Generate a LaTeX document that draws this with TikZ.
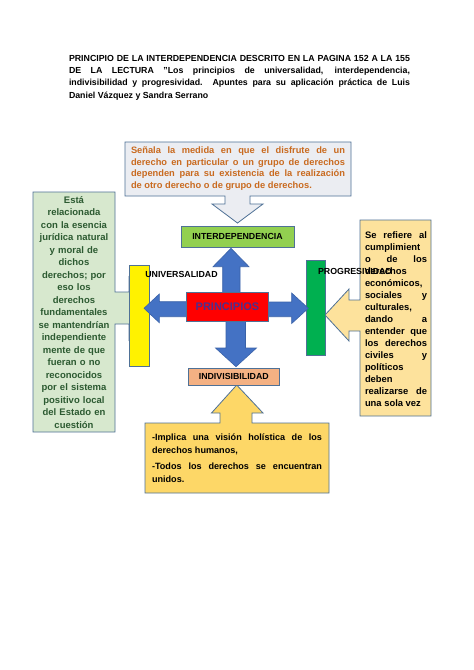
\documentclass[tikz,border=0pt]{standalone}
\usepackage{fontspec}
\setmainfont{Liberation Sans}
\usepackage{tikz}
\usetikzlibrary{positioning}
\usepackage{xcolor}
\definecolor{borde}{HTML}{4F7196}
\definecolor{grisclaro}{HTML}{EBEDF2}
\definecolor{naranjatxt}{HTML}{C96A1F}
\definecolor{verdeclaro}{HTML}{D7E8CE}
\definecolor{verdetxt}{HTML}{2C5A31}
\definecolor{crema}{HTML}{FDE29C}
\definecolor{dorado}{HTML}{FDD767}
\definecolor{azul}{HTML}{4472C4}
\definecolor{azulborde}{HTML}{3A62A8}
\definecolor{verdeinter}{HTML}{92D050}
\definecolor{salmon}{HTML}{F4B183}
\definecolor{verdebarra}{HTML}{00B050}
\definecolor{morado}{HTML}{4B2F8F}
\tikzset{
  llamada/.style={draw=borde, line width=0.8pt, line join=miter},
  caja/.style={rectangle, draw=borde, line width=0.8pt, inner sep=0pt,
               font=\bfseries\fontsize{8.8}{10}\selectfont},
  barra/.style={rectangle, draw=borde, line width=0.8pt, inner sep=0pt},
  flecha/.style={draw=azulborde, fill=azul, line width=0.6pt, line join=miter},
  texto/.style={inner sep=0pt, align=justify,
                execute at begin node={\tolerance=10000\hyphenpenalty=10000}},
  etiqueta/.style={inner sep=0pt, font=\bfseries\fontsize{8.8}{10}\selectfont},
}
\begin{document}
\begin{tikzpicture}[x=1pt, y=-1pt]
    \useasboundingbox[fill=white] (0,0) rectangle (474,670);
    % Title
    \node[texto, text width=341, font=\bfseries\fontsize{8.8}{12.3}\selectfont]
      (titulo) at (239.5,77.5)
      {PRINCIPIO DE LA INTERDEPENDENCIA DESCRITO EN LA PAGINA 152 A LA 155\linebreak
       DE LA LECTURA "Los principios de universalidad, interdependencia,\linebreak
       indivisibilidad y progresividad. Apuntes para su aplicación práctica de Luis\linebreak
       Daniel Vázquez y Sandra Serrano};
    % Callouts
    \filldraw[llamada, fill=verdeclaro]
      (33,192) -- (115,192) -- (115,292) -- (129,292) -- (129,277) -- (155,308.5)
      -- (129,340) -- (129,324) -- (115,324) -- (115,432) -- (33,432) -- cycle;
    \filldraw[llamada, fill=crema]
      (360,220) -- (431,220) -- (431,416) -- (360,416) -- (360,331) -- (349,331)
      -- (349,341) -- (325,315) -- (349,289) -- (349,300) -- (360,300) -- cycle;
    \filldraw[llamada, fill=grisclaro]
      (125,142) -- (351,142) -- (351,196) -- (250,196) -- (250,204) -- (263,204)
      -- (237.5,223) -- (212,204) -- (225,204) -- (225,196) -- (125,196) -- cycle;
    \filldraw[llamada, fill=dorado]
      (145,423) -- (220,423) -- (220,413) -- (211.5,413) -- (236.7,385) -- (263,413)
      -- (252,413) -- (252,423) -- (329,423) -- (329,493) -- (145,493) -- cycle;
    % Callout texts
    \node[texto, text width=214, text=naranjatxt,
          font=\bfseries\fontsize{9.3}{11.5}\selectfont] (medida) at (238,168.5)
      {Señala la medida en que el disfrute de un\linebreak
       derecho en particular o un grupo de derechos\linebreak
       dependen para su existencia de la realización\linebreak
       de otro derecho o de grupo de derechos.};
    \node[inner sep=0pt, align=center, text width=80, text=verdetxt,
          font=\bfseries\fontsize{9.5}{12.5}\selectfont] (esencia) at (74,312.5)
      {Está\\ relacionada\\ con la esencia\\ jurídica natural\\ y moral de\\ dichos\\
       derechos; por\\ eso los\\ derechos\\ fundamentales\\ se mantendrían\\
       independiente\\ mente de que\\ fueran o no\\ reconocidos\\ por el sistema\\
       positivo local\\ del Estado en\\ cuestión};
    \node[texto, text width=62, font=\bfseries\fontsize{9.4}{12}\selectfont]
      (cumple) at (396,319)
      {Se refiere al\linebreak cumplimient\linebreak o de los\linebreak derechos\linebreak
       económicos,\linebreak sociales y\linebreak culturales,\linebreak dando a\linebreak
       entender que\linebreak los derechos\linebreak civiles y\linebreak políticos\linebreak
       deben\linebreak realizarse de\linebreak una sola vez};
    \node[texto, text width=170, font=\bfseries\fontsize{9.1}{12.5}\selectfont,
          execute at begin node={\setlength{\parskip}{4pt}}] (holistica) at (237,458)
      {-Implica una visión holística de los\linebreak derechos humanos,\par
       -Todos los derechos se encuentran\linebreak unidos.};
    % Side bars
    \node[barra, fill=yellow, minimum width=19.7, minimum height=101.7]
      (barUniv) at (139.2,315.9) {};
    \node[barra, fill=verdebarra, minimum width=18.3, minimum height=94.3]
      (barProg) at (315.8,307.8) {};
    % Blue block arrows
    \filldraw[flecha] (222.7,300) -- (222.7,266.7) -- (213,266.7) -- (231,248.3)
      -- (249,266.7) -- (240,266.7) -- (240,300) -- cycle;
    \filldraw[flecha] (226,315) -- (226,348) -- (215.5,348) -- (236,366.7)
      -- (256.5,348) -- (245.5,348) -- (245.5,315) -- cycle;
    \filldraw[flecha] (195,301.7) -- (159.3,301.7) -- (159.3,294) -- (144,308.3)
      -- (159.3,322.7) -- (159.3,316.7) -- (195,316.7) -- cycle;
    \filldraw[flecha] (260,302) -- (291.7,302) -- (291.7,293) -- (308.3,308.3)
      -- (291.7,323.5) -- (291.7,316.7) -- (260,316.7) -- cycle;
    % Principle boxes
    \node[caja, fill=verdeinter, minimum width=113, minimum height=21]
      (inter) at (237.5,236.5) {INTERDEPENDENCIA};
    \node[caja, fill=red, text=morado, minimum width=81.6, minimum height=29,
          font=\bfseries\fontsize{11}{12}\selectfont]
      (princ) at (227.5,307.2) {PRINCIPIOS};
    \node[caja, fill=salmon, minimum width=91, minimum height=16.7]
      (indiv) at (233.8,376.7) {INDIVISIBILIDAD};
    % Bar labels
    \node[etiqueta] (univ) at (181.5,274) {UNIVERSALIDAD};
    \node[etiqueta] (progr) at (355,271) {PROGRESIVIDAD};
\end{tikzpicture}
\end{document}
